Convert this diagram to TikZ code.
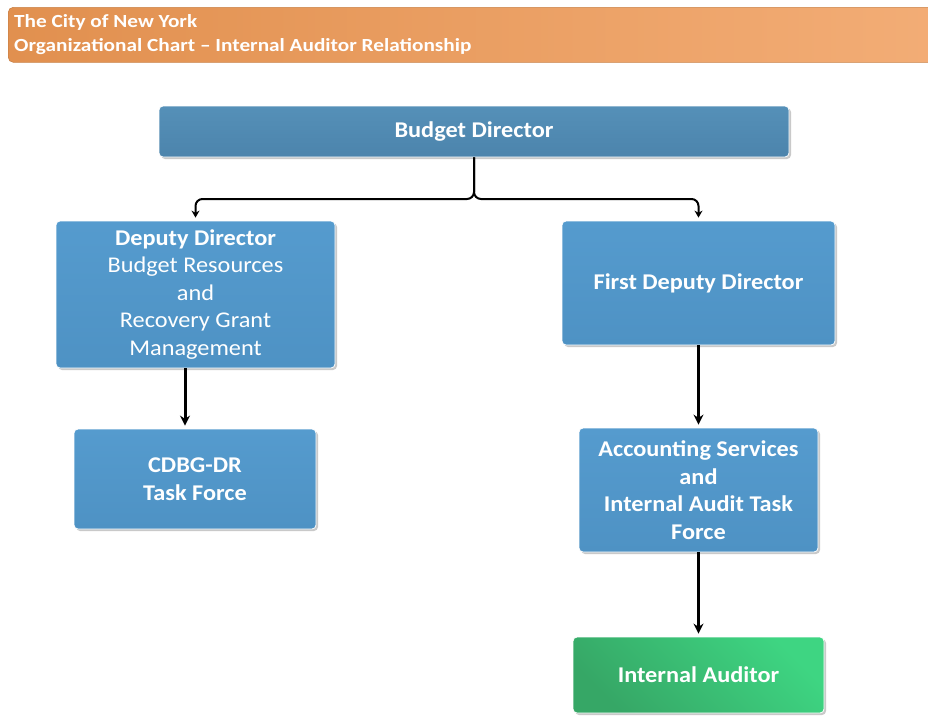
\documentclass[tikz,border=0pt]{standalone}
\usepackage{fontspec}
\setmainfont{Carlito}[FakeStretch=1.08]
\newfontfamily\hdrfont{Carlito}[FakeStretch=1.15]
\usetikzlibrary{arrows.meta,shadows}
\definecolor{boxblue}{HTML}{559BCE}
\definecolor{boxblueB}{HTML}{4E92C4}
\definecolor{topblue}{HTML}{5590B8}
\definecolor{topblueB}{HTML}{4C84AC}
\definecolor{hdrA}{HTML}{E1904F}
\definecolor{hdrB}{HTML}{F3AD76}
\definecolor{grnA}{HTML}{36A766}
\definecolor{grnB}{HTML}{3ED582}
\tikzset{
  x=1pt, y=-1pt,
  box/.style={draw=white, line width=0.8pt, rounded corners=4pt, text=white,
    align=center, inner sep=2pt, font=\fontsize{22.5}{27.5}\selectfont\bfseries,
    top color=boxblue, bottom color=boxblueB,
    drop shadow={shadow xshift=2pt, shadow yshift=-2pt, fill=black!35, opacity=0.6}},
  topbox/.style={box, top color=topblue, bottom color=topblueB},
  grnbox/.style={box, left color=grnA, right color=grnB, shading angle=135},
  hdrtext/.style={anchor=west, text=white, font=\hdrfont\fontsize{18.5}{21}\selectfont\bfseries, inner sep=0pt},
  thickarr/.style={line width=3pt, -{Stealth[length=10pt,width=10pt]}, shorten >=3pt},
  thinarr/.style={line width=2pt, rounded corners=7pt, -{Stealth[length=7pt,width=8pt]}, shorten >=3pt},
}
\begin{document}
\begin{tikzpicture}
\useasboundingbox (0,0) rectangle (928,715);
\fill[white] (0,0) rectangle (928,715);
% header
\node[draw=hdrA!90!black, line width=0.6pt, rounded corners=5pt, left color=hdrA, right color=hdrB,
  minimum width=935pt, minimum height=55pt, anchor=north west, inner sep=0pt] (hdr) at (8,7) {};
\node[hdrtext] (h1) at (14,22) {The City of New York};
\node[hdrtext] (h2) at (14,47) {Organizational Chart – Internal Auditor Relationship};
% boxes
\node[topbox, minimum width=630pt, minimum height=51pt] (bd) at (474,131.5) {Budget Director};
\node[box, minimum width=279pt, minimum height=147pt] (dd) at (195.5,294.5)
  {Deputy Director\\\mdseries Budget Resources\\\mdseries and\\\mdseries Recovery Grant\\\mdseries Management};
\node[box, minimum width=273pt, minimum height=124pt] (fd) at (698.5,283) {First Deputy Director};
\node[box, minimum width=242pt, minimum height=100pt] (cd) at (195,479) {CDBG-DR\\Task Force};
\node[box, minimum width=239pt, minimum height=124pt] (ac) at (698.5,490)
  {Accounting Services\\and\\Internal Audit Task\\Force};
\node[grnbox, minimum width=251pt, minimum height=76pt] (ia) at (698.5,675) {Internal Auditor};
% connectors
\coordinate (j) at (474,199);
\draw[thinarr] (bd.south) -- (j) -| (dd.north);
\draw[thinarr] (bd.south) -- (j) -| (fd.north);
\draw[thickarr] (dd.south -| 185,0) -- (cd.north -| 185,0);
\draw[thickarr] (fd.south) -- (ac.north);
\draw[thickarr] (ac.south) -- (ia.north);
\end{tikzpicture}
\end{document}
